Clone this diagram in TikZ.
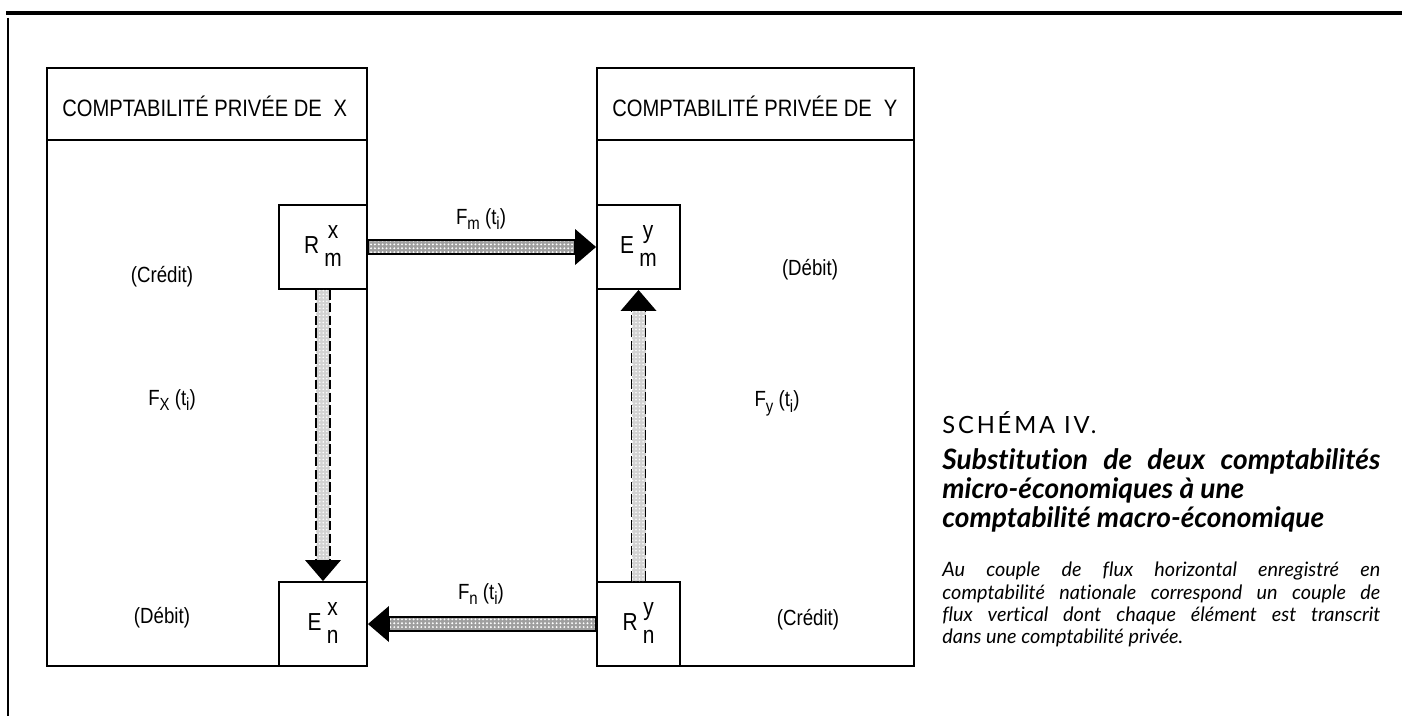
\documentclass[tikz,border=0pt]{standalone}
\usepackage{fontspec}
\setmainfont{Liberation Sans}
\newfontfamily\condfont[FakeStretch=0.85]{Liberation Sans}
\newfontfamily\capfont[Ligatures=NoCommon]{Lato}
\usetikzlibrary{patterns.meta}
\newcommand{\indice}[1]{\raisebox{-0.5ex}{\fontsize{10}{10}\selectfont #1}}
\newcommand{\compte}[3]{#1\hspace{3pt}\begin{tabular}[c]{@{}c@{}}#2\\[1pt]#3\end{tabular}}
\newcommand{\pleine}[1]{\makebox[8.76cm][s]{#1}}

\begin{document}
\begin{tikzpicture}[x=0.02cm, y=-0.02cm,
  cadre/.style={line width=1.1pt},
  petit/.style={draw, line width=1.1pt, minimum width=1.76cm, minimum height=1.68cm, inner sep=0pt, font=\condfont\fontsize{14}{15}\selectfont},
  lbl/.style={inner sep=0pt, font=\condfont\fontsize{12.5}{14}\selectfont},
  entete/.style={inner sep=0pt, anchor=west, font=\condfont\fontsize{13.5}{15}\selectfont},
  tige/.style={preaction={fill=gray!75}, pattern={Dots[distance=2.2pt, radius=0.6pt]}, pattern color=white},
  tigev/.style={preaction={fill=gray!35}, pattern={Dots[distance=2pt, radius=0.5pt]}, pattern color=white},
  bord/.style={line width=1.1pt, dash pattern=on 5.5pt off 1.8pt},
  titre/.style={anchor=base west, inner sep=0pt, font=\capfont\bfseries\itshape\fontsize{16}{18}\selectfont},
  leg/.style={anchor=base west, inner sep=0pt, font=\capfont\itshape\fontsize{11.3}{13}\selectfont}]
\useasboundingbox (0,0) rectangle (1402,716);
% cadre de page
\draw[line width=1.8pt] (6,13) -- (1402,13);
\draw[line width=1.5pt] (8,18) -- (8,716);
% comptabilite de X
\draw[cadre] (47,68) rectangle (367,666);
\draw[cadre] (47,140) -- (367,140);
\node[entete] (hdrX) at (62,106) {COMPTABILITÉ PRIVÉE DE\enspace X};
\node[petit] (Rmx) at (323,247) {\compte{R}{x}{m}};
\node[petit] (Enx) at (323,624) {\compte{E}{x}{n}};
\node[lbl] (credX) at (162,277) {(Crédit)};
\node[lbl] (FX) at (172,400) {F\indice{X} (t\indice{i})};
\node[lbl] (debX) at (162,618) {(Débit)};
% comptabilite de Y
\draw[cadre] (597,68) rectangle (914,666);
\draw[cadre] (597,140) -- (914,140);
\node[entete] (hdrY) at (612,106) {COMPTABILITÉ PRIVÉE DE\enspace Y};
\node[petit, minimum width=1.66cm] (Emy) at (638.5,247) {\compte{E}{y}{m}};
\node[petit, minimum width=1.66cm] (Rny) at (638.5,624) {\compte{R}{y}{n}};
\node[lbl] (debY) at (810,270) {(Débit)};
\node[lbl] (FY) at (777,403) {F\indice{y} (t\indice{i})};
\node[lbl] (credY) at (808,620) {(Crédit)};
% flux horizontaux
\draw[tige, line width=1pt] ([shift={(0,-7)}]Rmx.east) rectangle ([shift={(-21,7)}]Emy.west);
\fill (Emy.west) -- ++(-21,-18) -- ++(0,36) -- cycle;
\node[lbl] (Fm) at (481,219) {F\indice{m} (t\indice{i})};
\draw[tige, line width=1pt] ([shift={(0,-7)}]Rny.west) rectangle ([shift={(21,7)}]Enx.east);
\fill (Enx.east) -- ++(21,-18) -- ++(0,36) -- cycle;
\node[lbl] (Fn) at (481,594) {F\indice{n} (t\indice{i})};
% flux verticaux
\path[tigev] ([shift={(-7,0)}]Rmx.south) rectangle ([shift={(7,-21)}]Enx.north);
\draw[bord] ([shift={(-7,0)}]Rmx.south) -- ([shift={(-7,-21)}]Enx.north);
\draw[bord] ([shift={(7,0)}]Rmx.south) -- ([shift={(7,-21)}]Enx.north);
\fill (Enx.north) -- ++(-18,-21) -- ++(36,0) -- cycle;
\path[tigev] ([shift={(-7,0)}]Rny.north) rectangle ([shift={(7,21)}]Emy.south);
\draw[bord] ([shift={(-7,0)}]Rny.north) -- ([shift={(-7,21)}]Emy.south);
\draw[bord] ([shift={(7,0)}]Rny.north) -- ([shift={(7,21)}]Emy.south);
\fill (Emy.south) -- ++(-18,21) -- ++(36,0) -- cycle;
% legende
\node[anchor=base west, inner sep=0pt, font=\capfont\fontsize{13.5}{15}\selectfont\addfontfeature{LetterSpace=12}] (schema) at (942,433) {SCHÉMA IV.};
\node[titre] (titre1) at (942,469) {\pleine{Substitution de deux comptabilités}};
\node[titre] (titre2) at (942,498) {micro-économiques à une};
\node[titre] (titre3) at (942,527) {comptabilité macro-économique};
\node[leg] (leg1) at (942,576) {\pleine{Au couple de flux horizontal enregistré en}};
\node[leg] (leg2) at (942,599) {\pleine{comptabilité nationale correspond un couple de}};
\node[leg] (leg3) at (942,621) {\pleine{flux vertical dont chaque élément est transcrit}};
\node[leg] (leg4) at (942,643) {dans une comptabilité privée.};
\end{tikzpicture}
\end{document}
